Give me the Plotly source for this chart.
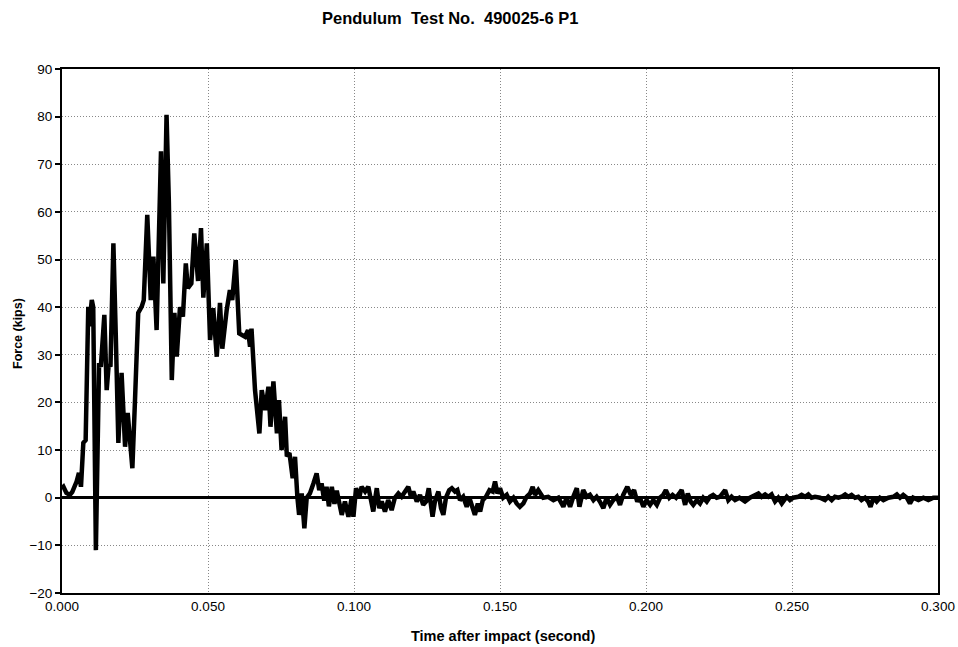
import plotly.graph_objects as go

# ---- Impact phase (seconds, kips) ----
time_impact = [
    0.0000, 0.0005, 0.0015, 0.0027, 0.0035, 0.0050, 0.0058, 0.0065, 0.0073, 0.0081,
    0.0090, 0.0093, 0.0102, 0.0107, 0.0116, 0.0127, 0.0133, 0.0145, 0.0153, 0.0160,
    0.0166, 0.0176, 0.0184, 0.0193, 0.0204, 0.0216, 0.0225, 0.0232, 0.0241, 0.0250,
    0.0261, 0.0273, 0.0280, 0.0292, 0.0304, 0.0313, 0.0324, 0.0339, 0.0347, 0.0358,
    0.0366, 0.0376, 0.0385, 0.0393, 0.0404, 0.0414, 0.0424, 0.0431, 0.0443, 0.0453,
    0.0466, 0.0476, 0.0484, 0.0496, 0.0507, 0.0518, 0.0530, 0.0541, 0.0549, 0.0564,
    0.0575, 0.0583, 0.0595, 0.0607, 0.0627, 0.0637, 0.0644, 0.0649, 0.0661, 0.0676,
    0.0684, 0.0696, 0.0707, 0.0714, 0.0724, 0.0736, 0.0743, 0.0752, 0.0764, 0.0770,
    0.0779, 0.0790, 0.0798, 0.0806, 0.0812, 0.0821, 0.0830, 0.0838, 0.0849, 0.0861,
    0.0872, 0.0881, 0.0889, 0.0898, 0.0906, 0.0914, 0.0924, 0.0933, 0.0941, 0.0952,
]
force_impact = [
    2.0, 2.3, 1.0, 0.6, 1.2, 3.4, 5.2, 2.3, 11.5, 12.1,
    40.1, 36.0, 41.5, 40.0, -11.0, 28.3, 27.5, 38.4, 22.6, 28.0,
    27.5, 53.4, 34.6, 11.5, 26.2, 10.7, 17.8, 11.5, 6.2, 20.5,
    38.8, 40.1, 41.5, 59.4, 41.5, 50.6, 35.2, 72.7, 45.0, 80.4,
    62.0, 24.7, 38.8, 29.6, 40.0, 38.0, 49.2, 44.0, 45.0, 55.5,
    45.5, 56.6, 42.0, 53.4, 33.1, 39.8, 29.6, 40.9, 31.3, 39.4,
    43.6, 41.5, 49.9, 34.5, 33.8, 35.2, 31.7, 35.5, 22.6, 13.5,
    22.6, 18.4, 23.3, 14.9, 24.4, 13.5, 20.5, 10.0, 17.0, 8.7,
    9.4, 4.1, 8.6, 0.2, -3.6, 0.9, -6.4, 0.0, 0.9, 3.0,
    5.1, 1.6, 3.0, -0.6, 2.3, -1.8, 2.3, -1.3, 1.5, -1.8,
]

# ---- Residual vibration phase (seconds, kips) ----
time_residual = [
    0.0958, 0.0969, 0.0981, 0.0992, 0.0998, 0.1007, 0.1018, 0.1026, 0.1038, 0.1049,
    0.1061, 0.1066, 0.1078, 0.1087, 0.1095, 0.1106, 0.1117, 0.1129, 0.1140, 0.1152,
    0.1163, 0.1175, 0.1186, 0.1195, 0.1203, 0.1215, 0.1226, 0.1237, 0.1247, 0.1256,
    0.1263, 0.1269, 0.1277, 0.1289, 0.1298, 0.1306, 0.1315, 0.1326, 0.1335, 0.1346,
    0.1354, 0.1363, 0.1374, 0.1386, 0.1395, 0.1403, 0.1414, 0.1424, 0.1432, 0.1441,
    0.1452, 0.1464, 0.1475, 0.1483, 0.1491, 0.1500, 0.1511, 0.1523, 0.1534, 0.1546,
    0.1557, 0.1568, 0.1580, 0.1591, 0.1603, 0.1612, 0.1620, 0.1631, 0.1648, 0.1665,
    0.1683, 0.1700, 0.1717, 0.1728, 0.1740, 0.1751, 0.1763, 0.1772, 0.1785, 0.1797,
    0.1808, 0.1820, 0.1831, 0.1842, 0.1854, 0.1865, 0.1877, 0.1888, 0.1900, 0.1911,
    0.1922, 0.1936, 0.1948, 0.1959, 0.1970, 0.1979, 0.1991, 0.2002, 0.2014, 0.2025,
    0.2037, 0.2048, 0.2059, 0.2068, 0.2080, 0.2091, 0.2103, 0.2114, 0.2122, 0.2134,
    0.2143, 0.2153, 0.2162, 0.2174, 0.2185, 0.2196, 0.2208, 0.2219, 0.2230, 0.2242,
    0.2253, 0.2271, 0.2282, 0.2293, 0.2305, 0.2320, 0.2339, 0.2356, 0.2373, 0.2385,
    0.2396, 0.2408, 0.2419, 0.2430, 0.2442, 0.2453, 0.2465, 0.2482, 0.2493, 0.2504,
    0.2522, 0.2533, 0.2545, 0.2556, 0.2567, 0.2579, 0.2596, 0.2613, 0.2624, 0.2636,
    0.2647, 0.2659, 0.2670, 0.2682, 0.2693, 0.2704, 0.2716, 0.2727, 0.2738, 0.2750,
    0.2761, 0.2769, 0.2779, 0.2790, 0.2801, 0.2813, 0.2830, 0.2847, 0.2859, 0.2870,
    0.2881, 0.2893, 0.2904, 0.2915, 0.2933, 0.2950, 0.2967, 0.2984, 0.3000,
]
force_residual = [
    -3.6, -0.8, -4.0, 0.0, -4.0, 2.0, 0.0, 2.3, 1.3, 2.3,
    -0.8, -2.9, 2.0, -2.2, -0.8, -2.9, -0.5, -2.6, 0.0, 0.9,
    0.2, 1.3, 2.3, 0.2, 1.3, -0.8, 0.6, -1.5, -0.8, 2.0,
    -2.2, -4.0, -0.8, 1.3, -2.2, -3.6, 0.0, 1.6, 2.0, 1.3,
    1.6, -0.5, 0.2, -1.9, 0.0, -1.5, -3.6, -1.2, -2.9, -0.5,
    0.2, 1.6, 1.3, 3.4, 0.9, 2.0, 0.0, 0.6, -0.8, 0.0,
    -1.2, -1.9, -1.2, 0.2, 0.9, 2.3, 0.6, 1.6, 0.0, 0.2,
    -0.5, 0.0, -1.9, 0.0, -1.9, 0.2, 2.0, -1.9, 1.6, 0.2,
    0.6, -0.5, 0.2, -0.8, -2.2, 0.0, -1.5, -0.5, 0.2, -1.5,
    0.6, 2.3, 0.6, 1.6, -0.8, 0.0, -1.9, -0.5, -1.5, -0.5,
    -1.5, 0.0, 0.6, 1.6, 0.0, 0.6, 0.0, 0.9, 1.6, -1.5,
    0.9, -0.8, -1.5, -0.5, -1.2, 0.0, -0.8, 0.2, 0.6, 0.0,
    0.2, 1.6, -0.5, 0.2, -0.5, 0.0, -0.8, 0.0, 0.6, 0.9,
    0.2, 0.7, 0.2, 0.7, -0.8, 0.0, -1.2, 0.2, -0.5, 0.0,
    0.2, 0.6, 0.2, 0.7, 0.0, 0.2, 0.0, -0.5, 0.2, -0.5,
    0.2, 0.0, 0.2, 0.7, 0.2, 0.6, 0.0, 0.2, -0.5, 0.0,
    -0.8, -1.9, 0.0, -0.8, 0.0, -0.5, 0.0, 0.2, 0.7, 0.0,
    0.6, 0.0, -1.2, 0.0, -0.5, 0.0, -0.5, 0.0, 0.0,
]

x_ticks = [0.0, 0.05, 0.10, 0.15, 0.20, 0.25, 0.30]
x_tick_labels = ["0.000", "0.050", "0.100", "0.150", "0.200", "0.250", "0.300"]
y_ticks = [-20, -10, 0, 10, 20, 30, 40, 50, 60, 70, 80, 90]

title_text = "<b>Pendulum\u00a0 Test No.\u00a0 490025-6 P1</b>"
x_title = "<b>Time after impact (second)</b>"
y_title = "<b>Force (kips)</b>"

FONT = "Liberation Sans, Arial, sans-serif"

time_all = time_impact + time_residual
force_all = force_impact + force_residual

fig = go.Figure()
fig.add_trace(go.Scatter(
    x=time_all, y=force_all, mode="lines",
    line=dict(color="black", width=4.5),
    showlegend=False, hoverinfo="skip",
))

PL, PR, PT, PB = 62, 938, 69, 593
PW, PH = PR - PL, PB - PT

fig.update_layout(
    width=958, height=647,
    margin=dict(l=PL, r=958 - PR, t=PT, b=647 - PB, autoexpand=False),
    paper_bgcolor="white", plot_bgcolor="white",
    font=dict(family=FONT, color="black", size=13),
    showlegend=False,
    annotations=[
        dict(text=title_text, xref="paper", yref="paper",
             x=(450 - PL) / PW, y=1 + (PT - 18) / PH,
             xanchor="center", yanchor="middle", showarrow=False,
             font=dict(size=16.5, family=FONT, color="black")),
        dict(text=x_title, xref="paper", yref="paper",
             x=(503 - PL) / PW, y=-(636 - PB) / PH,
             xanchor="center", yanchor="middle", showarrow=False,
             font=dict(size=14.5, family=FONT, color="black")),
        dict(text=y_title, xref="paper", yref="paper",
             x=-(PL - 18) / PW, y=(PB - 334) / PH,
             xanchor="center", yanchor="middle", showarrow=False, textangle=-90,
             font=dict(size=12.5, family=FONT, color="black")),
    ],
)

fig.update_xaxes(
    range=[0, 0.3], tickvals=x_ticks, ticktext=x_tick_labels,
    showline=True, linecolor="black", linewidth=2, mirror=True,
    showgrid=True, gridcolor="#888888", gridwidth=1, griddash="1px,2px",
    zeroline=False, ticks="", tickfont=dict(size=13.5, family=FONT, color="black"),
    fixedrange=True,
)
fig.update_yaxes(
    range=[-20, 90], tickvals=y_ticks,
    showline=True, linecolor="black", linewidth=2, mirror=True,
    showgrid=True, gridcolor="#888888", gridwidth=1, griddash="1px,2px",
    zeroline=True, zerolinecolor="black", zerolinewidth=3,
    ticks="outside", ticklen=5, tickcolor="black", tickwidth=1.5,
    tickfont=dict(size=13.5, family=FONT, color="black"),
    fixedrange=True,
)

fig.write_html("out.html", config={"displayModeBar": False},
               post_script="document.body.style.margin='0';")
